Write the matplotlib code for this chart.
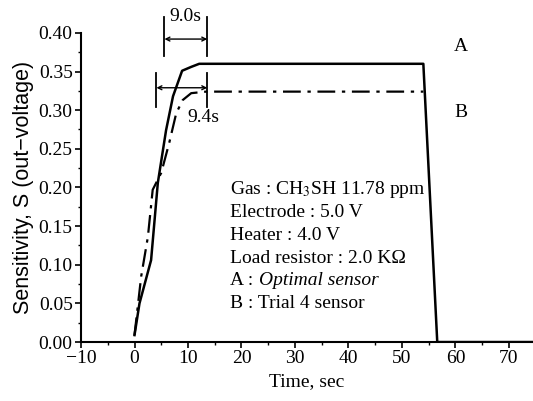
import matplotlib
matplotlib.use("Agg")
import matplotlib.pyplot as plt
from matplotlib.ticker import MultipleLocator

# curve A : optimal sensor (solid)
tA = [0, 0.93, 3.1, 4.36, 5.9, 7.2, 8.9, 10.6, 12.1, 30, 54.0, 56.6, 74.5]
sA = [0.009, 0.05, 0.106, 0.206, 0.274, 0.318, 0.351, 0.356, 0.360, 0.360, 0.360, 0.0, 0.0]
# curve B : trial 4 sensor (dash-dot)
tB = [0, 1.25, 2.5, 3.4, 5.0, 6.5, 7.8, 9.0, 10.6, 13.4, 54.0]
sB = [0.009, 0.085, 0.136, 0.197, 0.219, 0.258, 0.296, 0.313, 0.322, 0.324, 0.324]

info = ["Gas : CH$_3$SH 11.78 ppm", "Electrode : 5.0 V", "Heater : 4.0 V",
        "Load resistor : 2.0 K\u03a9"]

plt.rcParams['font.family'] = ['Liberation Serif', 'DejaVu Serif']
plt.rcParams['mathtext.fontset'] = 'stix'

fig = plt.figure(figsize=(5.33, 4.01), dpi=100)
ax = fig.add_axes([0.152, 0.147, 0.848, 0.771])

ax.plot(tA, sA, color='black', lw=1.8, ls='-')
ax.plot(tB, sB, color='black', lw=1.6, ls=(0, (8, 3, 1.5, 3)))

ax.set_xlim(-10, 74.5)
ax.set_ylim(0, 0.40)
ax.spines['top'].set_visible(False)
ax.spines['right'].set_visible(False)
ax.spines['left'].set_linewidth(1.5)
ax.spines['bottom'].set_linewidth(1.5)
ax.xaxis.set_major_locator(MultipleLocator(10))
ax.xaxis.set_minor_locator(MultipleLocator(5))
ax.yaxis.set_major_locator(MultipleLocator(0.05))
ax.yaxis.set_minor_locator(MultipleLocator(0.025))
ax.yaxis.set_major_formatter(lambda v, p: f"{v:.2f}")
ax.xaxis.set_major_formatter(lambda v, p: f"\u2212{-v:.0f}" if v < 0 else f"{v:.0f}")
ax.tick_params(which='major', length=4, width=1.2, labelsize=14, pad=2)
ax.tick_params(which='minor', length=2.5, width=1.0)

ax.set_xlabel("Time, sec", fontsize=14, labelpad=4)
ax.set_ylabel("Sensitivity, S (out\u2212voltage)", fontsize=15.5,
              family=['Liberation Sans', 'DejaVu Sans'], labelpad=3)

# response time brackets
for x in (5.6, 13.6):
    ax.plot([x, x], [0.37, 0.42], color='black', lw=1.3, clip_on=False)
ax.annotate("", xy=(5.6, 0.392), xytext=(13.6, 0.392),
            arrowprops=dict(arrowstyle='<->', lw=1.0, mutation_scale=7, shrinkA=0, shrinkB=0),
            annotation_clip=False)
ax.text(9.6, 0.421, "9.0s", ha='center', va='center', fontsize=14)

for x in (4.1, 13.6):
    ax.plot([x, x], [0.304, 0.348], color='black', lw=1.3)
ax.annotate("", xy=(4.1, 0.329), xytext=(13.6, 0.329),
            arrowprops=dict(arrowstyle='<->', lw=1.0, mutation_scale=7, shrinkA=0, shrinkB=0))
ax.text(12.9, 0.291, "9.4s", ha='center', va='center', fontsize=14)

ax.text(61, 0.383, "A", ha='center', va='center', fontsize=14)
ax.text(61, 0.297, "B", ha='center', va='center', fontsize=14)

y0, dy = 0.197, 0.0295
for i, line in enumerate(info):
    ax.text(17.8, y0 - i * dy, line, ha='left', va='center', fontsize=14)
lab = ax.text(17.8, y0 - 4 * dy, "A : ", ha='left', va='center', fontsize=14)
fig.canvas.draw()
bb = lab.get_window_extent(fig.canvas.get_renderer())
x_end = ax.transData.inverted().transform((bb.x1, bb.y0))[0]
ax.text(x_end + 0.3, y0 - 4 * dy, "Optimal sensor", ha='left', va='center', fontsize=14, style='italic')
ax.text(17.8, y0 - 5 * dy, "B : Trial 4 sensor", ha='left', va='center', fontsize=14)

fig.savefig("out.png", dpi=100)
